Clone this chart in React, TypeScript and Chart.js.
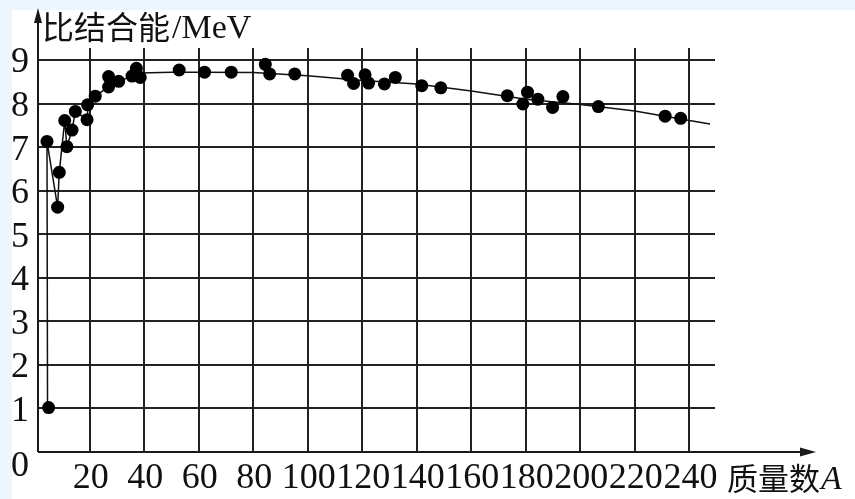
import React, { useEffect, useRef } from "react";
import { Chart, registerables } from "chart.js";

Chart.register(...registerables);

// Measured nuclides: mass number A and specific binding energy (MeV)
const massNumbers = [
  4.9, 4.3, 8.2, 8.8, 10.8, 11.6, 13.5, 14.7, 19.0, 19.2, 22.0, 26.9, 26.9, 30.6,
  35.5, 37.1, 38.5, 52.8, 62.1, 71.9, 84.4, 86.0, 95.2, 114.6, 116.8, 121.0, 122.3,
  128.1, 132.1, 141.8, 148.8, 173.2, 178.9, 180.6, 184.4, 189.8, 193.6, 206.6, 231.1, 236.8,
];
const bindingEnergies = [
  1.02, 7.13, 5.62, 6.42, 7.61, 7.01, 7.39, 7.82, 7.63, 7.97, 8.17, 8.62, 8.38, 8.51,
  8.63, 8.81, 8.6, 8.77, 8.72, 8.72, 8.9, 8.68, 8.68, 8.65, 8.46, 8.66, 8.47,
  8.45, 8.6, 8.41, 8.36, 8.18, 7.99, 8.26, 8.1, 7.91, 8.16, 7.93, 7.71, 7.66,
];

// Trend line through the points
const curveA = [
  4.5, 4.3, 8.2, 8.8, 10.8, 11.6, 13.5, 14.7, 19.0, 19.2, 22.0, 26.9, 30.6, 35.5,
  38.5, 50, 60, 80, 100, 120, 140, 160, 180, 200, 220, 240, 247.6,
];
const curveE = [
  1.02, 7.13, 5.62, 6.42, 7.61, 7.01, 7.39, 7.82, 7.63, 7.97, 8.17, 8.38, 8.51, 8.63,
  8.7, 8.72, 8.72, 8.71, 8.64, 8.53, 8.45, 8.29, 8.1, 7.98, 7.83, 7.61, 7.53,
];

const xTicks = [20, 40, 60, 80, 100, 120, 140, 160, 180, 200, 220, 240];
const yTicks = [1, 2, 3, 4, 5, 6, 7, 8, 9];
const yTitle = "比结合能";
const yUnit = "/MeV";
const xTitle = "质量数";
const xSymbol = "A";
const originLabel = "0";

const X_MIN = 1;
const X_MAX = 249.4;
const Y_MIN = 0;
const Y_MAX = 9.275;

const decorPlugin = {
  id: "decor",
  beforeDraw(chart: any) {
    const ctx = chart.ctx;
    ctx.save();
    ctx.fillStyle = "#ffffff";
    ctx.fillRect(0, 0, chart.width, chart.height);
    ctx.fillStyle = "#edf5fd";
    ctx.fillRect(0, 0, chart.width, 10);
    ctx.fillRect(0, 0, 12, chart.height);
    ctx.restore();
  },
  afterDraw(chart: any) {
    const ctx = chart.ctx;
    const xs = chart.scales.x;
    const ys = chart.scales.y;
    const left = xs.getPixelForValue(X_MIN);
    const y0 = ys.getPixelForValue(0);
    ctx.save();
    ctx.strokeStyle = "#1a1a1a";
    ctx.fillStyle = "#1a1a1a";
    ctx.lineWidth = 2;
    // y axis with arrow
    ctx.beginPath();
    ctx.moveTo(left, y0);
    ctx.lineTo(left, 18);
    ctx.stroke();
    ctx.beginPath();
    ctx.moveTo(left, 8);
    ctx.lineTo(left - 4, 23);
    ctx.lineTo(left + 4, 23);
    ctx.closePath();
    ctx.fill();
    // x axis with arrow
    ctx.beginPath();
    ctx.moveTo(left, y0);
    ctx.lineTo(806, y0);
    ctx.stroke();
    ctx.beginPath();
    ctx.moveTo(816, y0);
    ctx.lineTo(800, y0 - 4.5);
    ctx.lineTo(800, y0 + 4.5);
    ctx.closePath();
    ctx.fill();

    // tick labels
    ctx.fillStyle = "#111";
    ctx.font = '36px "Liberation Serif"';
    ctx.textBaseline = "alphabetic";
    ctx.textAlign = "right";
    yTicks.forEach((v) => {
      ctx.fillText(String(v), 29, ys.getPixelForValue(v) + 12.5);
    });
    ctx.fillText(originLabel, 29, y0 + 24);
    ctx.textAlign = "center";
    xTicks.forEach((v) => {
      ctx.fillText(String(v), xs.getPixelForValue(v) + 1, y0 + 36);
    });

    // axis titles
    ctx.textAlign = "left";
    ctx.font = '32px "Noto Sans CJK SC"';
    ctx.fillText(yTitle, 42, 39);
    const w1 = ctx.measureText(yTitle).width;
    ctx.font = '34px "Liberation Serif"';
    ctx.fillText(yUnit, 42 + w1 + 2, 38);

    ctx.font = '31px "Noto Sans CJK SC"';
    ctx.fillText(xTitle, 727, 490);
    const w2 = ctx.measureText(xTitle).width;
    ctx.font = 'italic 34px "Liberation Serif"';
    ctx.fillText(xSymbol, 727 + w2 + 1, 489);
    ctx.restore();
  },
};

export default function App() {
  const ref = useRef<HTMLCanvasElement | null>(null);
  useEffect(() => {
    if (!ref.current) return;
    const points = massNumbers.map((a, i) => ({ x: a, y: bindingEnergies[i] }));
    const curve = curveA.map((a, i) => ({ x: a, y: curveE[i] }));
    const chart = new Chart(ref.current, {
      type: "scatter",
      data: {
        datasets: [
          {
            type: "scatter",
            data: points,
            backgroundColor: "#000",
            borderWidth: 0,
            pointRadius: 6.5,
            pointHoverRadius: 6.5,
          } as any,
          {
            type: "line",
            data: curve,
            borderColor: "#111",
            borderWidth: 1.5,
            pointRadius: 0,
            tension: 0,
            fill: false,
          } as any,
        ],
      },
      options: {
        responsive: false,
        animation: false,
        devicePixelRatio: 1,
        layout: { padding: { left: 38, top: 48, right: 140, bottom: 47 } },
        plugins: { legend: { display: false }, tooltip: { enabled: false } },
        scales: {
          x: {
            type: "linear",
            min: X_MIN,
            max: X_MAX,
            afterBuildTicks: (scale: any) => {
              scale.ticks = xTicks.map((v) => ({ value: v }));
            },
            ticks: { display: false },
            border: { display: false },
            grid: { color: "#222", lineWidth: 2, drawTicks: false },
          },
          y: {
            type: "linear",
            min: Y_MIN,
            max: Y_MAX,
            afterBuildTicks: (scale: any) => {
              scale.ticks = yTicks.map((v) => ({ value: v }));
            },
            ticks: { display: false },
            border: { display: false },
            grid: { color: "#222", lineWidth: 2, drawTicks: false },
          },
        },
      } as any,
      plugins: [decorPlugin],
    });
    return () => chart.destroy();
  }, []);
  return (
    <div style={{ position: "fixed", left: 0, top: 0, width: 855, height: 499 }}>
      <canvas ref={ref} width={855} height={499} style={{ width: 855, height: 499, display: "block" }} />
    </div>
  );
}
